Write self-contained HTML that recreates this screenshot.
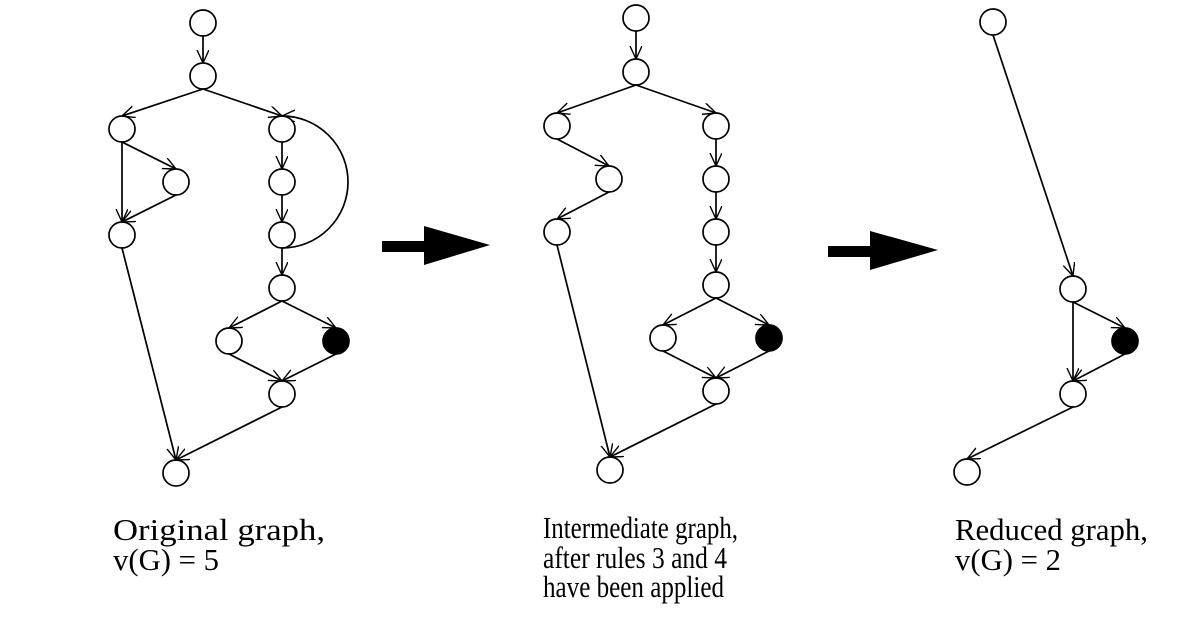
<!DOCTYPE html>
<html><head><meta charset="utf-8"><style>
html,body{margin:0;padding:0;background:#fff;}
svg{display:block;}
text{font-family:"Liberation Serif",serif;font-size:31px;fill:#000;}
</style></head><body>
<svg width="1200" height="628" viewBox="0 0 1200 628" xmlns="http://www.w3.org/2000/svg">
<defs>
<marker id="a" markerUnits="userSpaceOnUse" markerWidth="16" markerHeight="14" refX="13" refY="6" orient="auto">
<path d="M0,0 L13,6 L0,12" fill="none" stroke="#000" stroke-width="1.4"/>
</marker>
</defs>
<g stroke="#000" stroke-width="1.7" fill="none" marker-end="url(#a)">
<line x1="203" y1="36" x2="203" y2="63"/>
<line x1="203" y1="89" x2="122" y2="116"/>
<line x1="203" y1="89" x2="282" y2="116"/>
<line x1="122" y1="142" x2="176" y2="169"/>
<line x1="122" y1="142" x2="122" y2="222"/>
<line x1="176" y1="195" x2="122" y2="222"/>
<line x1="282" y1="142" x2="282" y2="169"/>
<line x1="282" y1="195" x2="282" y2="222"/>
<path d="M282,248 A66,66 0 0 0 282,116"/>
<line x1="282" y1="248" x2="282" y2="275"/>
<line x1="282" y1="301" x2="229" y2="328"/>
<line x1="282" y1="301" x2="336" y2="328"/>
<line x1="229" y1="354" x2="282" y2="381"/>
<line x1="336" y1="354" x2="282" y2="381"/>
<line x1="282" y1="407" x2="176" y2="460"/>
<line x1="122" y1="248" x2="176" y2="460"/>
<line x1="636" y1="31" x2="636" y2="59"/>
<line x1="636" y1="85" x2="557" y2="113"/>
<line x1="636" y1="85" x2="716" y2="113"/>
<line x1="557" y1="139" x2="609" y2="166"/>
<line x1="609" y1="192" x2="557" y2="219"/>
<line x1="716" y1="139" x2="716" y2="166"/>
<line x1="716" y1="192" x2="716" y2="219"/>
<line x1="716" y1="245" x2="716" y2="272"/>
<line x1="716" y1="298" x2="663" y2="325"/>
<line x1="716" y1="298" x2="769" y2="325"/>
<line x1="663" y1="351" x2="716" y2="378"/>
<line x1="769" y1="351" x2="716" y2="378"/>
<line x1="716" y1="404" x2="610" y2="457"/>
<line x1="557" y1="245" x2="610" y2="457"/>
<line x1="993" y1="35" x2="1073" y2="276"/>
<line x1="1073" y1="302" x2="1125" y2="328"/>
<line x1="1073" y1="302" x2="1073" y2="381"/>
<line x1="1125" y1="354" x2="1073" y2="381"/>
<line x1="1073" y1="407" x2="967" y2="459"/>
</g>
<g stroke="#000" stroke-width="1.7" fill="#fff">
<circle cx="203" cy="23" r="13"/><circle cx="203" cy="76" r="13"/>
<circle cx="122" cy="129" r="13"/><circle cx="282" cy="129" r="13"/>
<circle cx="176" cy="182" r="13"/><circle cx="282" cy="182" r="13"/>
<circle cx="122" cy="235" r="13"/><circle cx="282" cy="235" r="13"/>
<circle cx="282" cy="288" r="13"/><circle cx="229" cy="341" r="13"/>
<circle cx="336" cy="341" r="13" fill="#000"/>
<circle cx="282" cy="394" r="13"/><circle cx="176" cy="473" r="13"/>
<circle cx="636" cy="18" r="13"/><circle cx="636" cy="72" r="13"/>
<circle cx="557" cy="126" r="13"/><circle cx="716" cy="126" r="13"/>
<circle cx="609" cy="179" r="13"/><circle cx="716" cy="179" r="13"/>
<circle cx="557" cy="232" r="13"/><circle cx="716" cy="232" r="13"/>
<circle cx="716" cy="285" r="13"/><circle cx="663" cy="338" r="13"/>
<circle cx="769" cy="338" r="13" fill="#000"/>
<circle cx="716" cy="391" r="13"/><circle cx="610" cy="470" r="13"/>
<circle cx="993" cy="22" r="13"/><circle cx="1073" cy="289" r="13"/>
<circle cx="1125" cy="341" r="13" fill="#000"/>
<circle cx="1073" cy="394" r="13"/><circle cx="967" cy="472" r="13"/>
</g>
<polygon points="382,241 424,241 424,226 490,245 424,265 424,252 382,252" fill="#000"/>
<polygon points="828,246 870,246 870,231 938,250 870,270 870,257 828,257" fill="#000"/>
<text x="113" y="540" textLength="212" lengthAdjust="spacingAndGlyphs">Original graph,</text>
<text x="113" y="570" textLength="106" lengthAdjust="spacingAndGlyphs">v(G) = 5</text>
<text x="543" y="538" textLength="195" lengthAdjust="spacingAndGlyphs">Intermediate graph,</text>
<text x="543" y="568" textLength="184" lengthAdjust="spacingAndGlyphs">after rules 3 and 4</text>
<text x="543" y="597" textLength="181" lengthAdjust="spacingAndGlyphs">have been applied</text>
<text x="955" y="540" textLength="193" lengthAdjust="spacingAndGlyphs">Reduced graph,</text>
<text x="955" y="570" textLength="106" lengthAdjust="spacingAndGlyphs">v(G) = 2</text>
</svg>
</body></html>
